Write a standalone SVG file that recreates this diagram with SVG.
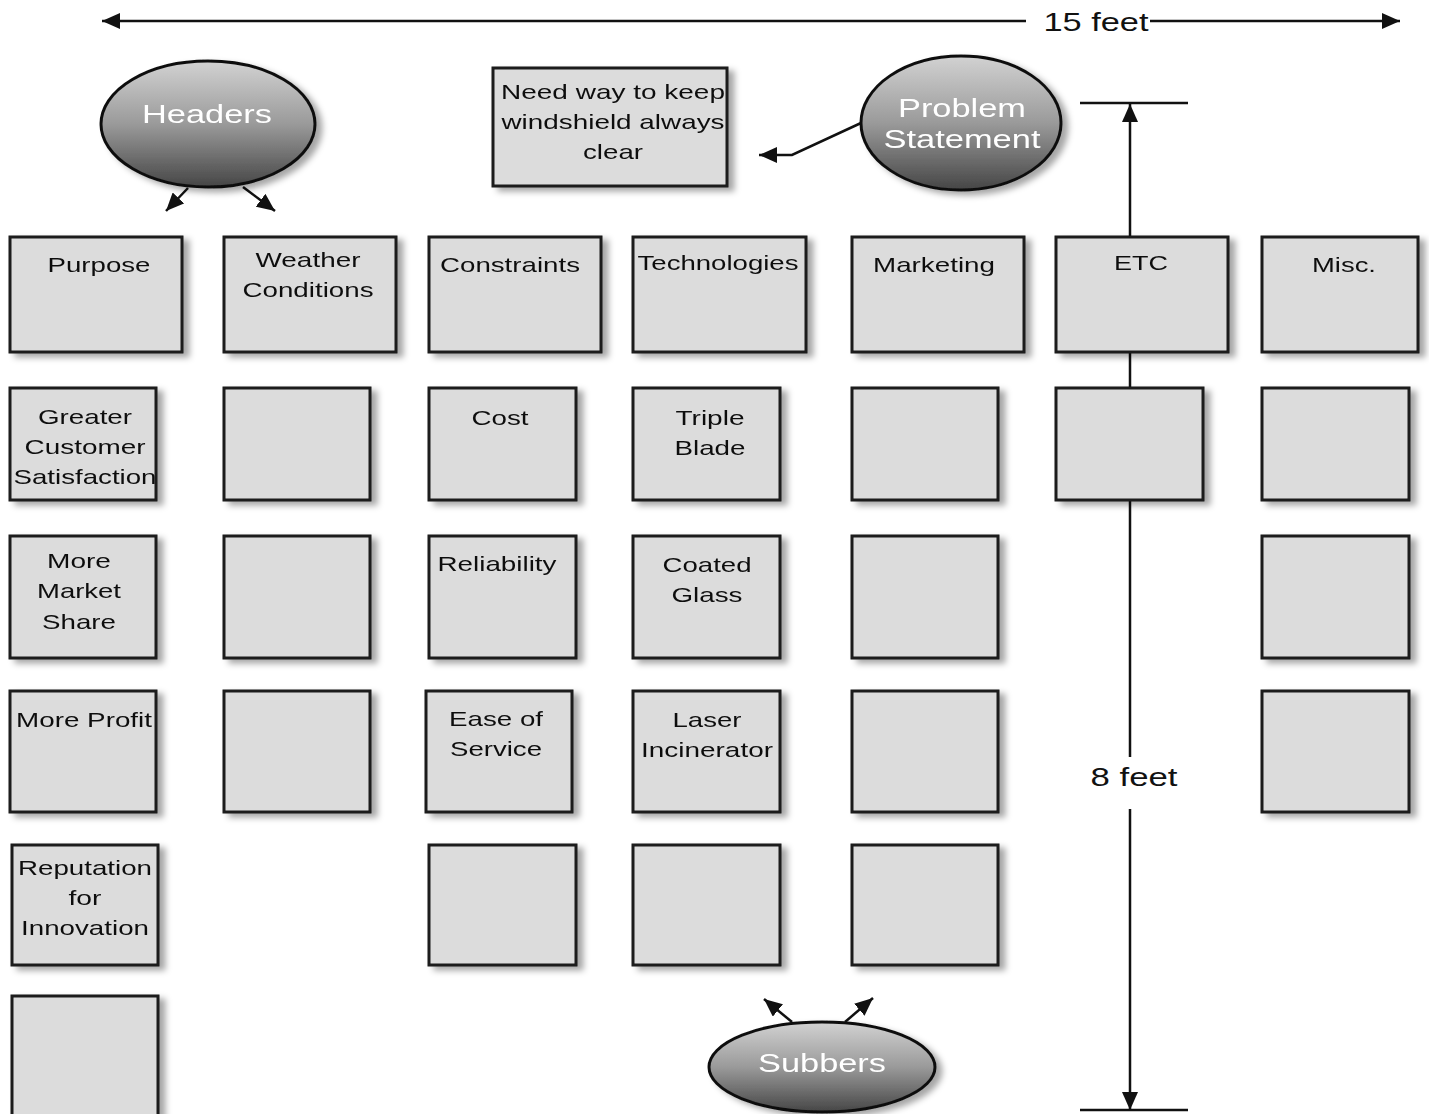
<svg xmlns="http://www.w3.org/2000/svg" width="1429" height="1114" viewBox="0 0 1429 1114">
<style>
.box rect{fill:#dcdcdc;stroke:#1a1a1a;stroke-width:3}
.t{font-family:"Liberation Sans",Arial,sans-serif;font-size:21px;fill:#111;text-anchor:middle}
.et{font-family:"Liberation Sans",Arial,sans-serif;font-size:26px;fill:#fff;text-anchor:middle}
.dt{font-family:"Liberation Sans",Arial,sans-serif;font-size:26px;fill:#111;text-anchor:middle}
.ell{fill:url(#eg);stroke:#111;stroke-width:3}
.ln{stroke:#111;stroke-width:2.5;fill:none}
</style>
<defs>
<filter id="sh" x="-10%" y="-10%" width="130%" height="130%">
<feGaussianBlur in="SourceAlpha" stdDeviation="3"/>
<feOffset dx="6" dy="4" result="b"/>
<feFlood flood-color="#000" flood-opacity="0.35"/>
<feComposite in2="b" operator="in"/>
<feMerge><feMergeNode/><feMergeNode in="SourceGraphic"/></feMerge>
</filter>
<linearGradient id="eg" x1="0" y1="0" x2="0" y2="1">
<stop offset="0" stop-color="#d2d2d2"/>
<stop offset="0.5" stop-color="#9a9a9a"/>
<stop offset="1" stop-color="#464646"/>
</linearGradient>
<marker id="ah" markerUnits="userSpaceOnUse" markerWidth="20" markerHeight="16" refX="18" refY="8" orient="auto">
<path d="M0,0 L18,8 L0,16 Z" fill="#111"/>
</marker>
</defs>

<g id="connectors">
<line class="ln" x1="1026" y1="21" x2="102" y2="21" marker-end="url(#ah)"/>
<line class="ln" x1="1150" y1="21" x2="1400" y2="21" marker-end="url(#ah)"/>
<line class="ln" x1="188" y1="188" x2="166" y2="211" marker-end="url(#ah)"/>
<line class="ln" x1="243" y1="187" x2="275" y2="211" marker-end="url(#ah)"/>
<polyline class="ln" points="861,123 792,155 759,155" marker-end="url(#ah)"/>
<line class="ln" x1="1080" y1="103" x2="1188" y2="103"/>
<line class="ln" x1="1080" y1="1110" x2="1188" y2="1110"/>
<line class="ln" x1="1130" y1="757" x2="1130" y2="104" marker-end="url(#ah)"/>
<line class="ln" x1="1130" y1="809" x2="1130" y2="1110" marker-end="url(#ah)"/>
<line class="ln" x1="792" y1="1022" x2="764" y2="999" marker-end="url(#ah)"/>
<line class="ln" x1="845" y1="1022" x2="873" y2="998" marker-end="url(#ah)"/>
<text class="dt" x="1096" y="31" textLength="105" lengthAdjust="spacingAndGlyphs">15 feet</text>
<text class="dt" x="1134" y="786" textLength="87" lengthAdjust="spacingAndGlyphs">8 feet</text>
</g>

<g id="headers" filter="url(#sh)">
<ellipse class="ell" cx="208" cy="124" rx="107" ry="63"/>
<text class="et" x="207" y="123" textLength="130" lengthAdjust="spacingAndGlyphs">Headers</text>
</g>
<g id="problem-statement" filter="url(#sh)">
<ellipse class="ell" cx="961" cy="123" rx="100" ry="67"/>
<text class="et" x="962" y="117" textLength="128" lengthAdjust="spacingAndGlyphs">Problem</text>
<text class="et" x="962" y="148" textLength="157" lengthAdjust="spacingAndGlyphs">Statement</text>
</g>
<g id="subbers" filter="url(#sh)">
<ellipse class="ell" cx="822" cy="1067" rx="113" ry="45"/>
<text class="et" x="822" y="1072" textLength="128" lengthAdjust="spacingAndGlyphs">Subbers</text>
</g>

<g id="problem-box" class="box" filter="url(#sh)">
<rect x="493" y="68" width="234" height="118"/>
<text class="t" x="613" y="99" textLength="224" lengthAdjust="spacingAndGlyphs">Need way to keep</text>
<text class="t" x="613" y="129" textLength="223" lengthAdjust="spacingAndGlyphs">windshield always</text>
<text class="t" x="613" y="159" textLength="60" lengthAdjust="spacingAndGlyphs">clear</text>
</g>

<g id="purpose" class="box" filter="url(#sh)"><rect x="10" y="237" width="172" height="115"/><text class="t" x="99" y="272" textLength="103" lengthAdjust="spacingAndGlyphs">Purpose</text></g>
<g id="weather" class="box" filter="url(#sh)"><rect x="224" y="237" width="172" height="115"/><text class="t" x="308" y="267" textLength="105" lengthAdjust="spacingAndGlyphs">Weather</text><text class="t" x="308" y="297" textLength="131" lengthAdjust="spacingAndGlyphs">Conditions</text></g>
<g id="constraints" class="box" filter="url(#sh)"><rect x="429" y="237" width="172" height="115"/><text class="t" x="510" y="272" textLength="140" lengthAdjust="spacingAndGlyphs">Constraints</text></g>
<g id="technologies" class="box" filter="url(#sh)"><rect x="633" y="237" width="173" height="115"/><text class="t" x="718" y="270" textLength="161" lengthAdjust="spacingAndGlyphs">Technologies</text></g>
<g id="marketing" class="box" filter="url(#sh)"><rect x="852" y="237" width="172" height="115"/><text class="t" x="934" y="272" textLength="122" lengthAdjust="spacingAndGlyphs">Marketing</text></g>
<g id="etc" class="box" filter="url(#sh)"><rect x="1056" y="237" width="172" height="115"/><text class="t" x="1141" y="270" textLength="54" lengthAdjust="spacingAndGlyphs">ETC</text></g>
<g id="misc" class="box" filter="url(#sh)"><rect x="1262" y="237" width="156" height="115"/><text class="t" x="1344" y="272" textLength="64" lengthAdjust="spacingAndGlyphs">Misc.</text></g>

<g id="greater-customer-satisfaction" class="box" filter="url(#sh)"><rect x="10" y="388" width="146" height="112"/><text class="t" x="85" y="424" textLength="94" lengthAdjust="spacingAndGlyphs">Greater</text><text class="t" x="85" y="454" textLength="121" lengthAdjust="spacingAndGlyphs">Customer</text><text class="t" x="85" y="484" textLength="143" lengthAdjust="spacingAndGlyphs">Satisfaction</text></g>
<g id="weather-2" class="box" filter="url(#sh)"><rect x="224" y="388" width="146" height="112"/></g>
<g id="cost" class="box" filter="url(#sh)"><rect x="429" y="388" width="147" height="112"/><text class="t" x="500" y="425" textLength="57" lengthAdjust="spacingAndGlyphs">Cost</text></g>
<g id="triple-blade" class="box" filter="url(#sh)"><rect x="633" y="388" width="147" height="112"/><text class="t" x="710" y="425" textLength="69" lengthAdjust="spacingAndGlyphs">Triple</text><text class="t" x="710" y="455" textLength="71" lengthAdjust="spacingAndGlyphs">Blade</text></g>
<g id="marketing-2" class="box" filter="url(#sh)"><rect x="852" y="388" width="146" height="112"/></g>
<g id="etc-2" class="box" filter="url(#sh)"><rect x="1056" y="388" width="147" height="112"/></g>
<g id="misc-2" class="box" filter="url(#sh)"><rect x="1262" y="388" width="147" height="112"/></g>

<g id="more-market-share" class="box" filter="url(#sh)"><rect x="10" y="536" width="146" height="122"/><text class="t" x="79" y="568" textLength="64" lengthAdjust="spacingAndGlyphs">More</text><text class="t" x="79" y="598" textLength="84" lengthAdjust="spacingAndGlyphs">Market</text><text class="t" x="79" y="629" textLength="74" lengthAdjust="spacingAndGlyphs">Share</text></g>
<g id="weather-3" class="box" filter="url(#sh)"><rect x="224" y="536" width="146" height="122"/></g>
<g id="reliability" class="box" filter="url(#sh)"><rect x="429" y="536" width="147" height="122"/><text class="t" x="497" y="571" textLength="119" lengthAdjust="spacingAndGlyphs">Reliability</text></g>
<g id="coated-glass" class="box" filter="url(#sh)"><rect x="633" y="536" width="147" height="122"/><text class="t" x="707" y="572" textLength="89" lengthAdjust="spacingAndGlyphs">Coated</text><text class="t" x="707" y="602" textLength="71" lengthAdjust="spacingAndGlyphs">Glass</text></g>
<g id="marketing-3" class="box" filter="url(#sh)"><rect x="852" y="536" width="146" height="122"/></g>
<g id="misc-3" class="box" filter="url(#sh)"><rect x="1262" y="536" width="147" height="122"/></g>

<g id="more-profit" class="box" filter="url(#sh)"><rect x="10" y="691" width="146" height="121"/><text class="t" x="84" y="727" textLength="136" lengthAdjust="spacingAndGlyphs">More Profit</text></g>
<g id="weather-4" class="box" filter="url(#sh)"><rect x="224" y="691" width="146" height="121"/></g>
<g id="ease-of-service" class="box" filter="url(#sh)"><rect x="426" y="691" width="146" height="121"/><text class="t" x="496" y="726" textLength="94" lengthAdjust="spacingAndGlyphs">Ease of</text><text class="t" x="496" y="756" textLength="92" lengthAdjust="spacingAndGlyphs">Service</text></g>
<g id="laser-incinerator" class="box" filter="url(#sh)"><rect x="633" y="691" width="147" height="121"/><text class="t" x="707" y="727" textLength="69" lengthAdjust="spacingAndGlyphs">Laser</text><text class="t" x="707" y="757" textLength="132" lengthAdjust="spacingAndGlyphs">Incinerator</text></g>
<g id="marketing-4" class="box" filter="url(#sh)"><rect x="852" y="691" width="146" height="121"/></g>
<g id="misc-4" class="box" filter="url(#sh)"><rect x="1262" y="691" width="147" height="121"/></g>

<g id="reputation-for-innovation" class="box" filter="url(#sh)"><rect x="12" y="845" width="146" height="120"/><text class="t" x="85" y="875" textLength="134" lengthAdjust="spacingAndGlyphs">Reputation</text><text class="t" x="85" y="905" textLength="33" lengthAdjust="spacingAndGlyphs">for</text><text class="t" x="85" y="935" textLength="128" lengthAdjust="spacingAndGlyphs">Innovation</text></g>
<g id="constraints-5" class="box" filter="url(#sh)"><rect x="429" y="845" width="147" height="120"/></g>
<g id="technologies-5" class="box" filter="url(#sh)"><rect x="633" y="845" width="147" height="120"/></g>
<g id="marketing-5" class="box" filter="url(#sh)"><rect x="852" y="845" width="146" height="120"/></g>

<g id="purpose-6" class="box" filter="url(#sh)"><rect x="12" y="996" width="146" height="130"/></g>
</svg>
